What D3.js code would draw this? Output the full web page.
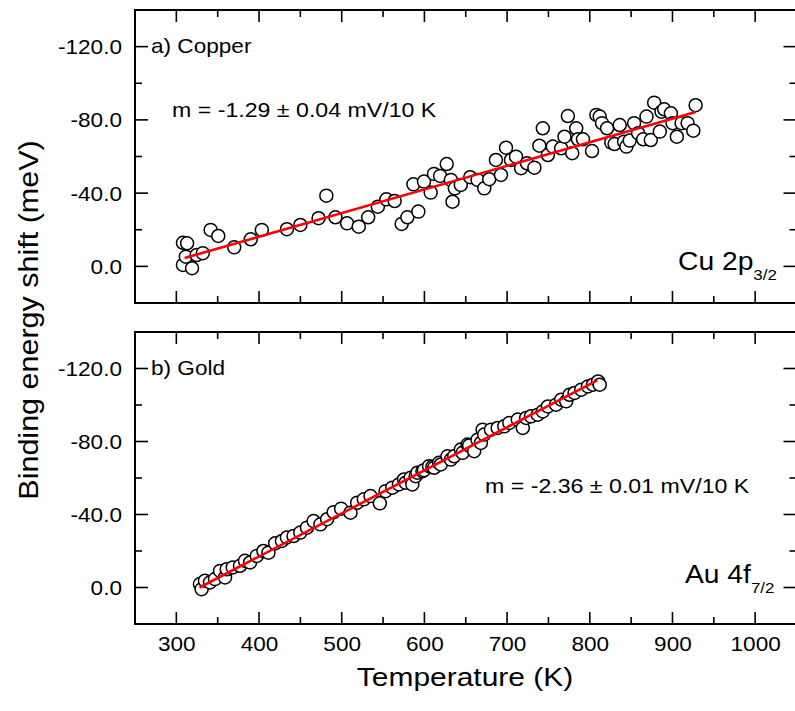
<!DOCTYPE html>
<html><head><meta charset="utf-8">
<script src="https://cdn.jsdelivr.net/npm/d3@7"></script>
<style>body{margin:0;background:#fff}svg{display:block}</style>
</head><body>
<svg id="chart" width="795" height="711"></svg>
<script>
// Tick values
const temperatureTicks = [300, 400, 500, 600, 700, 800, 900, 1000];
const temperatureMinorTicks = [350, 450, 550, 650, 750, 850, 950];
const shiftTicks = [-120, -80, -40, 0];
const shiftMinorTicks = [-100, -60, -20];

// a) Copper, Cu 2p3/2: temperature (K) and binding energy shift (meV)
const copperT = [308, 313, 308, 311.5, 319, 324.5, 332, 341.5, 350.7, 370, 390, 403.4, 433.7, 450, 472, 481.4,
  492.4, 506.5, 520.6, 532, 543.7, 554, 564, 572.5, 579.4, 586.7, 592.7, 599.5, 607.6, 611.6, 619, 627,
  632, 634, 636.8, 644, 655.4, 664.3, 672.4, 678.4, 686.5, 692.6, 698.7, 704.7, 710.8, 716.9, 724, 733,
  739, 743.2, 749.3, 755.3, 765.4, 769.4, 773.5, 778.8, 783.6, 785.7, 791.8, 802.7, 808, 812, 814.8,
  820.9, 826, 830, 836.2, 841.5, 844.3, 848.3, 853.6, 858.5, 864.6, 868.6, 873.8, 877.9, 884.7, 886.8,
  890, 898.1, 900.1, 905.3, 911, 918.3, 925.2, 928];
const copperShift = [-12.9, -12.6, -0.8, -5.3, 1.0, -6.2, -7.2, -19.9, -16.6, -10.4, -14.8, -19.9, -20.3, -22.6, -26.3, -38.6,
  -26.8, -23.5, -21.7, -26.8, -32.6, -36.6, -35.7, -23.2, -26.8, -44.8, -29.9, -46.3, -40.3, -50.5, -49.4, -55.9,
  -47.2, -35.3, -42.6, -44.5, -48.7, -47.2, -42.6, -47.6, -58.1, -49.9, -64.8, -58.1, -59.9, -53.6, -56.3, -53.9,
  -65.9, -75.4, -60.8, -65.4, -64.5, -70.8, -82.1, -61.8, -75.4, -69.4, -69.4, -63, -82.7, -81.8, -78.2,
  -75.4, -67.6, -66.8, -77.2, -68.1, -65.4, -68.7, -78.2, -72.7, -69.4, -81.8, -69, -89.4, -73.6, -84.5,
  -85.8, -83.6, -78.2, -70.8, -78.2, -78.2, -74.1, -88];

// b) Gold, Au 4f7/2
const goldT = [328.5, 330.6, 334.6, 340.7, 346.7, 352.8, 358.9, 360.9, 368.2, 377, 383, 389.2, 397.3, 405.3, 411.4,
  419.5, 427.7, 433.7, 441.7, 449.9, 458, 466, 474.2, 482.3, 490.3, 499.3, 510.6, 518.7, 526.7, 534.8, 546.1,
  553, 561.2, 569.2, 575.3, 577.3, 583.4, 585.4, 589.4, 591.5, 597.6, 599.5, 605.6, 609.7, 611.7, 617.7, 619.8,
  627.9, 632, 636, 644, 646.1, 652.2, 654.1, 660.2, 664.3, 668.3, 670.4, 672.3, 680.5, 688.6, 696.6, 702.7,
  712.9, 719, 723, 729, 737.1, 743.2, 749.3, 759.3, 765.4, 771.5, 775.5, 781.6, 789.7, 797.8, 803.9, 810, 812];
const goldShift = [-1.9, 0.9, -3.7, -2.8, -4.6, -9.1, -5.5, -10, -11, -11.9, -14.6, -13.7, -17.3, -20, -19.1,
  -24.2, -25.5, -27.4, -28.2, -30.1, -32.8, -36.4, -34.6, -37.4, -41.3, -43.2, -41, -46.5, -48.3, -50.1, -46.1,
  -52.8, -54.7, -56.5, -59.2, -57.4, -60.1, -56.5, -61, -62.9, -63.7, -64.3, -66.5, -66.1, -65.6, -68.3, -67.4,
  -71.9, -70.1, -71.9, -75.6, -73.8, -78.3, -77.8, -74.7, -81, -79.2, -86.5, -83.8, -86.5, -87.4, -88.3, -90.2,
  -92, -87.4, -92.9, -93.8, -94.7, -96.5, -99.2, -100.2, -102.9, -102, -105.6, -106.6, -108.4, -110.2, -111.1, -112.9, -111.1];

// Linear fits: slope in meV/K (mV/10 K / 10), intercept in meV, fitted range in K
const copperFit = [-0.129, 35.4, 310, 928];
const goldFit = [-0.236, 77.4, 328, 809];

const svg = d3.select("#chart");
const FONT = "'Liberation Sans', Arial, sans-serif";
const SX = 1.13; // horizontal stretch of lettering

const x = d3.scaleLinear().domain([250, 1050]).range([135, 796.5]);
const fmtShift = d => d.toFixed(1);

function text(g, px, py, parts, size, anchor) {
  const t = g.append("text")
    .attr("transform", `translate(${px},${py}) scale(${SX},1)`)
    .attr("font-family", FONT).attr("font-size", size)
    .attr("text-anchor", anchor || "start").attr("fill", "#000");
  parts.forEach(p => {
    const s = t.append("tspan").text(p.t);
    if (p.sub) s.attr("font-size", p.sub).attr("dy", p.dy);
  });
  return t;
}

function panel(top, bottom, T, V, fit, tag, slopeText, slopePos, lineLabel, lineLabelPos) {
  const y = d3.scaleLinear().domain([20, -140]).range([bottom, top]);
  const g = svg.append("g");
  const [x0, x1] = x.range();

  // ticks: major & minor on all four sides, pointing inward
  const tk = g.append("g").attr("stroke", "#000").attr("stroke-width", 1.6);
  temperatureTicks.concat(temperatureMinorTicks).forEach(v => {
    const L = temperatureTicks.includes(v) ? 12 : 7;
    tk.append("line").attr("x1", x(v)).attr("x2", x(v)).attr("y1", bottom).attr("y2", bottom - L);
    tk.append("line").attr("x1", x(v)).attr("x2", x(v)).attr("y1", top).attr("y2", top + L);
  });
  shiftTicks.concat(shiftMinorTicks).forEach(v => {
    const L = shiftTicks.includes(v) ? 13 : 7;
    tk.append("line").attr("x1", x0).attr("x2", x0 + L).attr("y1", y(v)).attr("y2", y(v));
    tk.append("line").attr("x1", x1).attr("x2", x1 - L).attr("y1", y(v)).attr("y2", y(v));
  });

  // y tick labels
  const yAxis = d3.axisLeft(y).tickValues(shiftTicks).tickSize(0).tickPadding(0).tickFormat(fmtShift);
  const ya = g.append("g").attr("transform", `translate(${x0 - 13},0)`).call(yAxis);
  ya.select(".domain").remove();
  ya.selectAll("text").attr("font-family", FONT).attr("font-size", 20).attr("fill", "#000")
    .attr("dy", "0.35em").attr("transform", `scale(${SX},1)`);

  // scatter
  g.append("g").selectAll("circle").data(T).join("circle")
    .attr("cx", d => x(d)).attr("cy", (d, i) => y(V[i])).attr("r", 6.5)
    .attr("fill", "#fff").attr("stroke", "#000").attr("stroke-width", 1.5);

  // fit line
  const [m, b, f0, f1] = fit;
  g.append("line").attr("x1", x(f0)).attr("y1", y(b + m * f0)).attr("x2", x(f1)).attr("y2", y(b + m * f1))
    .attr("stroke", "#f00").attr("stroke-width", 2.6);

  // frame
  g.append("rect").attr("x", x0).attr("y", top).attr("width", x1 - x0).attr("height", bottom - top)
    .attr("fill", "none").attr("stroke", "#000").attr("stroke-width", 2);

  text(g, x0 + 16, top + 43, [{ t: tag }], 20);
  text(g, slopePos[0], slopePos[1], [{ t: slopeText }], 20.5);
  text(g, lineLabelPos[0], lineLabelPos[1], lineLabel, 25);
  return y;
}

panel(10, 303, copperT, copperShift, copperFit, "a) Copper",
  "m = -1.29 \u00b1 0.04 mV/10 K", [172, 117],
  [{ t: "Cu 2p" }, { t: "3/2", sub: 15, dy: 10 }], [678, 270]);

panel(332, 624, goldT, goldShift, goldFit, "b) Gold",
  "m = -2.36 \u00b1 0.01 mV/10 K", [485, 493],
  [{ t: "Au 4f" }, { t: "7/2", sub: 15, dy: 10 }], [685, 583]);

// x tick labels under the lower panel
const xa = svg.append("g").attr("transform", "translate(0,624)")
  .call(d3.axisBottom(x).tickValues(temperatureTicks).tickSize(0).tickPadding(0).tickFormat(d3.format("d")));
xa.select(".domain").remove();
xa.selectAll("text").attr("font-family", FONT).attr("font-size", 20).attr("fill", "#000")
  .attr("dy", 0).attr("y", 27).attr("x", 0).attr("transform", `scale(${SX},1)`);

// axis titles
text(svg, 465, 686, [{ t: "Temperature (K)" }], 26.5, "middle");
svg.append("text")
  .attr("transform", `translate(38,320) rotate(-90) scale(${SX},1)`)
  .attr("font-family", FONT).attr("font-size", 27).attr("text-anchor", "middle")
  .text("Binding energy shift (meV)");
</script>
</body></html>
